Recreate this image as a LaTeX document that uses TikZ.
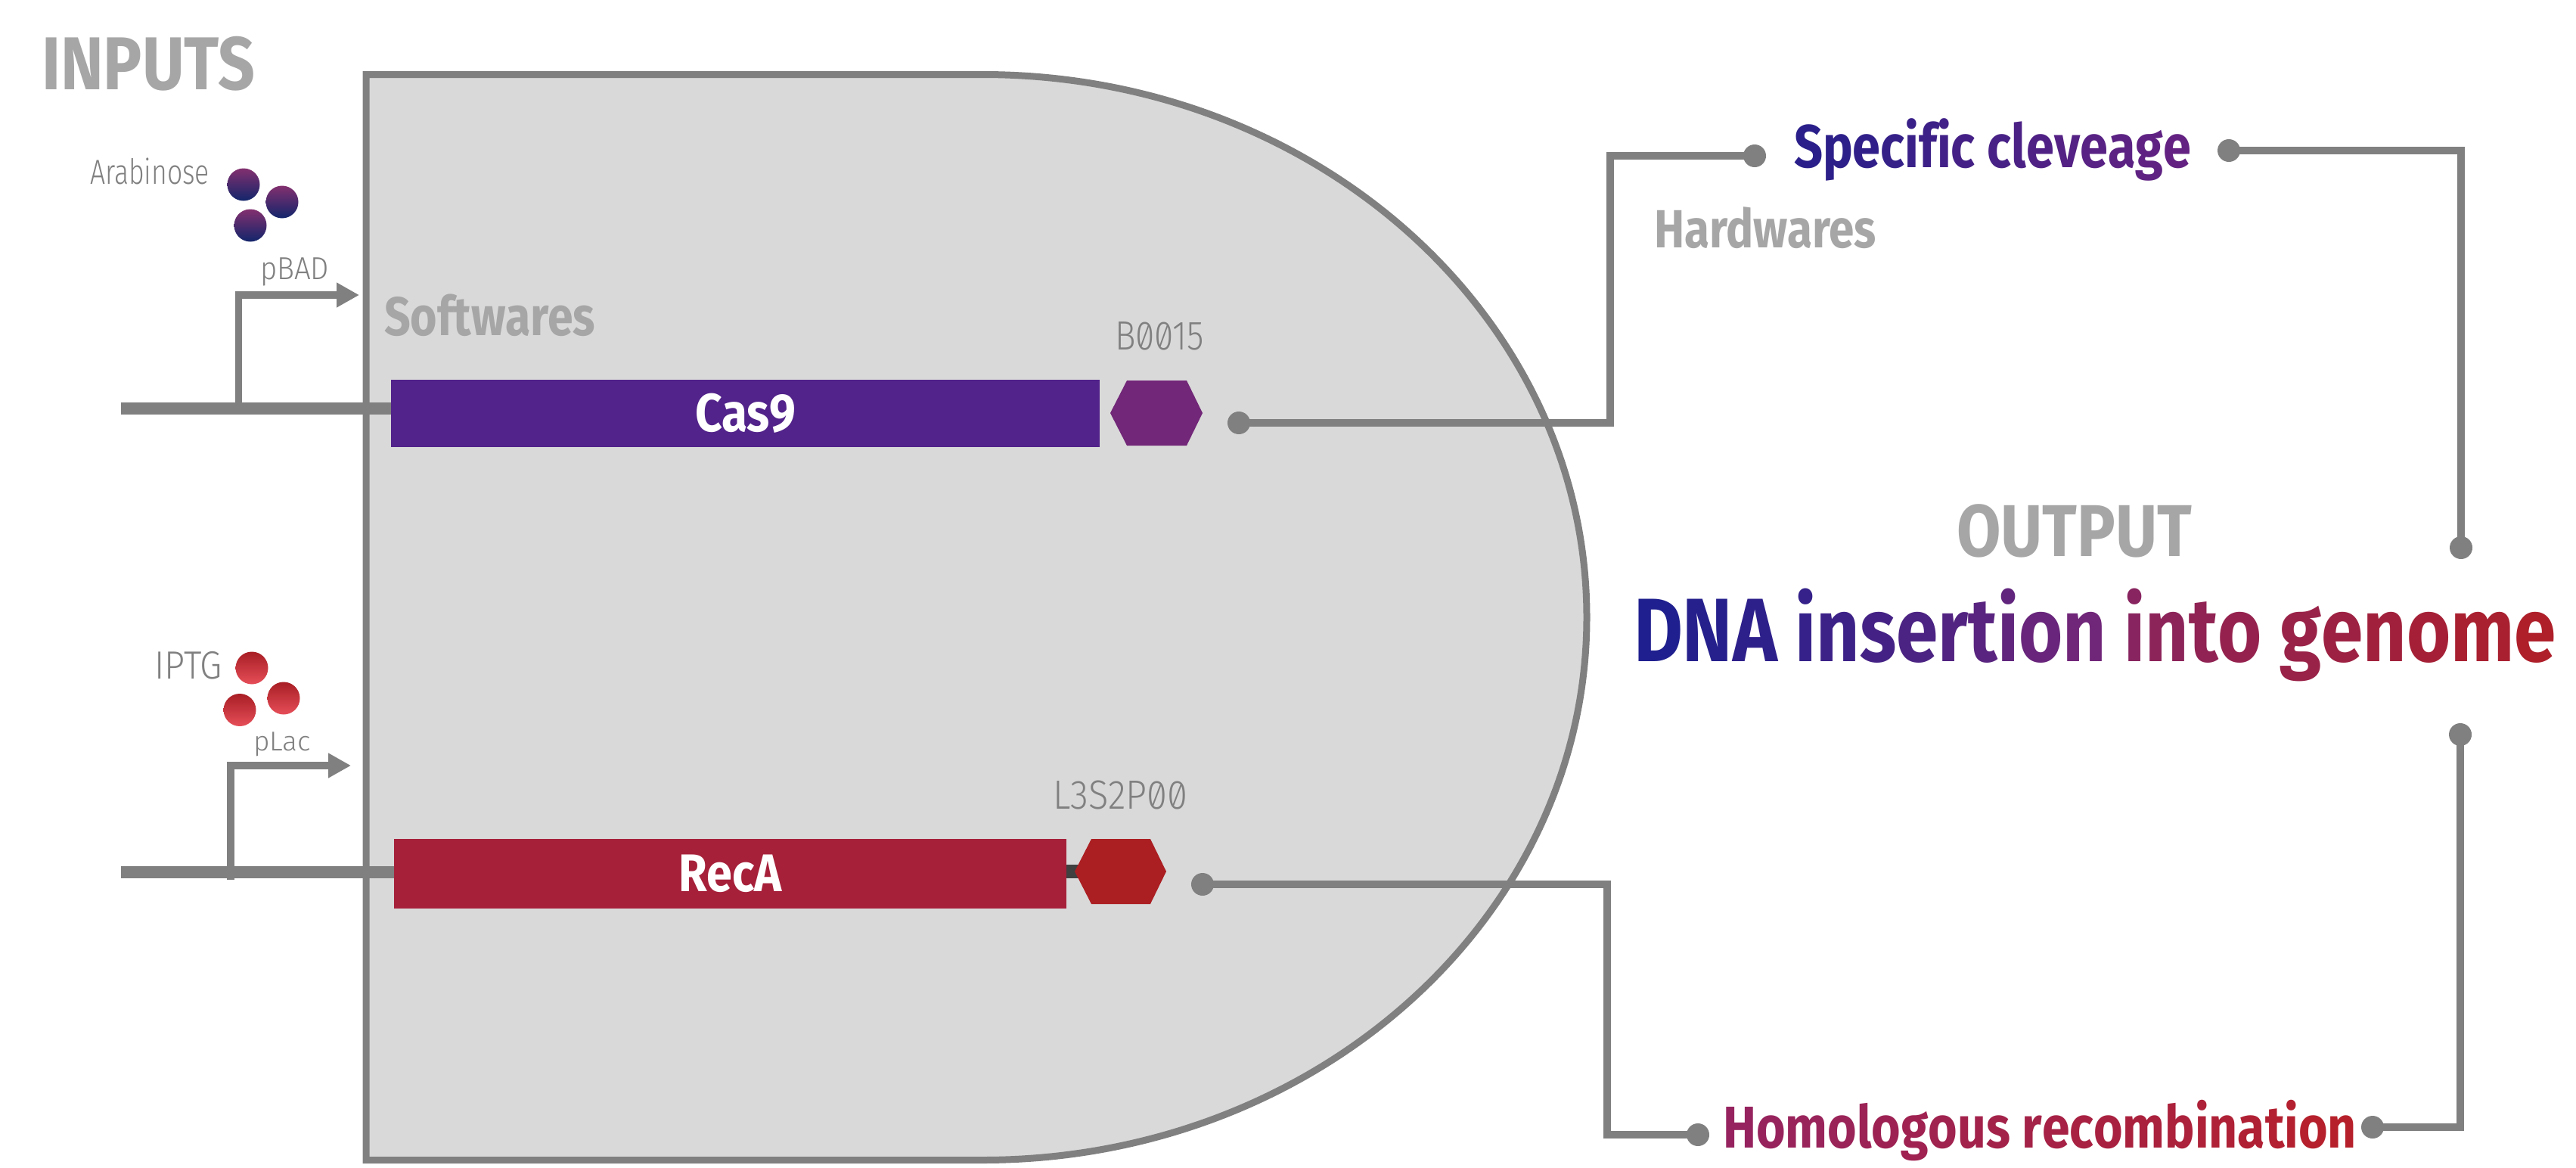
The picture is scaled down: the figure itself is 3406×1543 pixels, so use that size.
\documentclass[tikz,border=0pt]{standalone}
\usepackage{fontspec}
\usepackage{graphicx}
\setmainfont{Fira Sans}
\newfontfamily\lightf[Numbers=SlashedZero]{Fira Sans Light}
\usetikzlibrary{arrows.meta,calc}
\definecolor{linegray}{HTML}{808080}
\definecolor{headgray}{HTML}{A6A6A6}
\definecolor{bodygray}{HTML}{D9D9D9}
\definecolor{casviolet}{HTML}{52238A}
\definecolor{recared}{HTML}{A6203A}
\definecolor{hexviolet}{HTML}{722778}
\definecolor{hexred}{HTML}{AB1E22}
\definecolor{ballTopA}{HTML}{83306F}
\definecolor{ballBotA}{HTML}{12256B}
\definecolor{ballTopB}{HTML}{A81E24}
\definecolor{ballBotB}{HTML}{E64E58}
\definecolor{dnaA}{HTML}{1F1F8F}
\definecolor{dnaM}{HTML}{702679}
\definecolor{dnaN}{HTML}{88245F}
\definecolor{dnaB}{HTML}{AE1F2A}
\definecolor{speA}{HTML}{2A1F8A}
\definecolor{speB}{HTML}{632282}
\definecolor{homA}{HTML}{96235F}
\definecolor{homB}{HTML}{B5202C}
\newsavebox\fitb
\newlength\fitl
\newcommand\fitw[2]{\sbox\fitb{#2}\setlength\fitl{\wd\fitb}\pgfmathsetmacro\fitr{#1/\fitl}\scalebox{\fitr}[1]{\usebox\fitb}}
\newcommand\fs[1]{\fontsize{#1}{#1}\selectfont}
\newcount\gi
\newcommand\gradset[3]{\def\gA{#1}\def\gB{#2}\def\gn{#3}\gi=0 }
\makeatletter
\newcommand\gw[1]{\@tfor\gl:=#1\do{\pgfmathtruncatemacro\gp{100*\gi/\gn}\textcolor{\gB!\gp!\gA}{\gl}\advance\gi by 1 }}
\makeatother
\tikzset{
  x=1pt,y=-1pt,
  txt/.style={inner sep=0pt,outer sep=0pt,anchor=base west},
  head/.style={txt,text=headgray,font=\bfseries},
  thin label/.style={txt,text=linegray},
  cds/.style={inner sep=0pt,outer sep=0pt,text=white,font=\bfseries},
  wire/.style={draw=linegray,line width=10pt,miter limit=10},
  strand/.style={draw=linegray,line width=16pt},
  promoter/.style={draw=linegray,line width=9.5pt,-{Triangle[length=30pt,width=31pt]}},
  dotend/.style={circle,fill=linegray,minimum size=30pt,inner sep=0pt,outer sep=0pt},
  ballA/.style={circle,minimum size=43pt,inner sep=0pt,top color=ballTopA,bottom color=ballBotA},
  ballB/.style={circle,minimum size=43pt,inner sep=0pt,top color=ballTopB,bottom color=ballBotB},
}
\begin{document}
\begin{tikzpicture}
\useasboundingbox (0,0) rectangle (3406,1543);
\fill[white] (0,0) rectangle (3406,1543);
% body
\draw[draw=linegray,fill=bodygray,line width=9pt,miter limit=10] (484,98.5) -- (1299,98.5)
  arc[start angle=90,end angle=-90,x radius=799pt,y radius=717.5pt] -- (484,1533.5) -- cycle;
% headings
\node[head] (inputs) at (55,118) {\fitw{282}{\fs{99}INPUTS}};
\node[head] (softwares) at (508,443) {\fitw{279}{\fs{72}Softwares}};
\node[head] (hardwares) at (2187,327) {\fitw{294}{\fs{71}Hardwares}};
\node[head] (output) at (2587,735) {\fitw{311}{\fs{97}OUTPUT}};
% coloured texts
\node[txt,font=\bfseries] (dna) at (2160,874) {\fitw{1220}{\fs{119}\gradset{dnaA}{dnaM}{11}\gw{DNA}\ \gw{insertion}\ \gradset{dnaN}{dnaB}{9}\gw{into}\ \gw{genome}}};
\node[txt,font=\bfseries] (spec) at (2372,221) {\fitw{525}{\fs{80}\gradset{speA}{speB}{15}\gw{Specific}\ \gw{cleveage}}};
\node[txt,font=\bfseries] (homo) at (2278,1517) {\fitw{838}{\fs{78}\gradset{homA}{homB}{21}\gw{Homologous}\ \gw{recombination}}};
% thin labels
\node[thin label] (arab) at (119,243) {\fitw{158}{\lightf\fs{46}Arabinose}};
\node[thin label] (pbad) at (344,369) {\fitw{91}{\lightf\fs{42}pBAD}};
\node[thin label] (iptg) at (204,897) {\fitw{90}{\lightf\fs{52}IPTG}};
\node[thin label] (plac) at (335,992) {\fitw{76}{\lightf\fs{36}pLac}};
\node[thin label] (b0015) at (1474,462) {\fitw{118}{\lightf\fs{54}B0015}};
\node[thin label] (l3s) at (1392,1069) {\fitw{178}{\lightf\fs{54}L3S2P00}};
% inducers
\node[ballA] (a1) at (322,244) {};
\node[ballA] (a2) at (373,267) {};
\node[ballA] (a3) at (331,298) {};
\node[ballB] (b1) at (333,883) {};
\node[ballB] (b2) at (375,923) {};
\node[ballB] (b3) at (317,938.5) {};
% coding sequences
\node[cds,fill=casviolet,minimum width=937pt,minimum height=89pt] (cas) at (985.5,546.5) {\fitw{133}{\fs{71}Cas9}};
\node[cds,fill=recared,minimum width=889pt,minimum height=92pt] (rec) at (965.5,1155) {\fitw{136}{\fs{70}RecA}};
% strands
\coordinate (s1) at (160,540);
\coordinate (s2) at (160,1153);
\coordinate (p1) at (315.5,547);
\coordinate (p1t) at (475,390);
\coordinate (p2) at (305,1163);
\coordinate (p2t) at (464,1012);
\draw[strand] (s1) -- (s1 -| cas.west);
\draw[strand] (s2) -- (s2 -| rec.west);
\draw[promoter] (p1) |- (p1t);
\draw[promoter] (p2) |- (p2t);
% terminators
\coordinate (hexr) at (1421,1152);
\fill[fill=black!75] (rec.east |- 0,1143) rectangle (1440,1161);
\fill[hexviolet] (1468,546) -- (1490,503) -- (1569,503) -- (1590,546) -- (1569,589) -- (1490,589) -- cycle;
\fill[hexred] (hexr) -- (1443,1109) -- (1521,1109) -- (1542,1152) -- (1521,1195) -- (1443,1195) -- cycle;
% output connectors
\node[dotend] (d1) at (1638,559) {};
\node[dotend] (d2) at (2320,206) {};
\node[dotend] (d3) at (2947,199) {};
\node[dotend] (d4) at (3254,724) {};
\node[dotend] (d5) at (3253,971) {};
\node[dotend] (d6) at (3137,1490) {};
\node[dotend] (d7) at (2245,1500) {};
\node[dotend] (d8) at (1590,1169) {};
\coordinate (c1) at (2129,559);
\coordinate (c2) at (2125,1169);
\draw[wire] (d1.center) -- (c1) |- (d2.center);
\draw[wire] (d3.center) -| (d4.center);
\draw[wire] (d5.center) |- (d6.center);
\draw[wire] (d8.center) -- (c2) |- (d7.center);
\end{tikzpicture}
\end{document}
